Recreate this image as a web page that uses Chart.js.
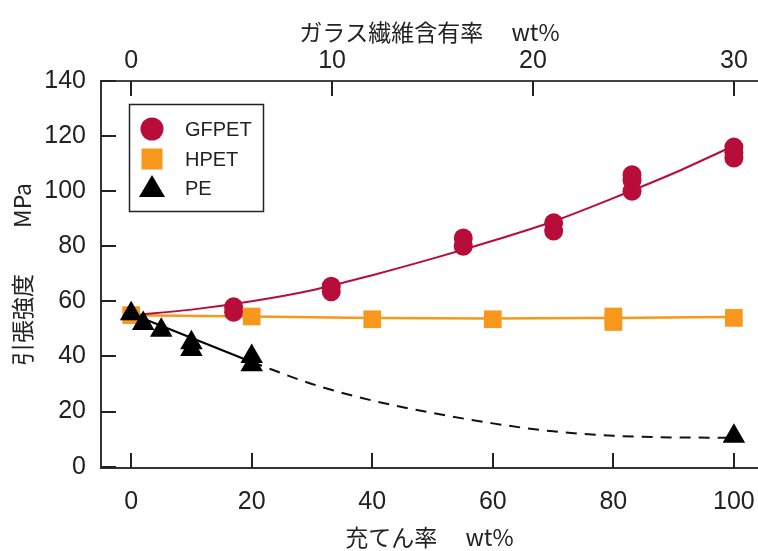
<!DOCTYPE html>
<html>
<head>
<meta charset="utf-8">
<script src="https://cdn.jsdelivr.net/npm/chart.js@4.4.1/dist/chart.umd.min.js"></script>
<style>
  body { margin: 0; background: #fff; }
  #wrap { width: 758px; height: 551px; }
</style>
</head>
<body>
<div id="wrap"><canvas id="c"></canvas></div>
<script>
// measured points (bottom axis: 充てん率 wt%)
const gfpetX = [17, 17, 33.2, 33.2, 55.1, 55.1, 70.1, 70.1, 83.1, 83.1, 83.1, 100, 100, 100];
const gfpetY = [58, 56, 65.5, 63.5, 83, 80, 88.5, 85.5, 106, 104, 100, 116, 114, 112];
const hpetX = [0, 20, 40, 60, 80, 80, 100];
const hpetY = [55, 54.5, 53.5, 53.5, 54.5, 52.5, 54];
const peX = [0, 2, 5, 10, 10, 20, 20, 100];
const peY = [55.5, 52, 49.5, 45, 42.5, 40, 37, 11];

// fitted curves
const gfFitX = [0, 10, 20, 30, 40, 50, 60, 70, 80, 90, 100];
const gfFitY = [55, 57, 60, 64, 69.5, 75.5, 82, 89, 97.5, 106.5, 116.5];
const hpFitX = [0, 20, 40, 60, 80, 100];
const hpFitY = [55, 54.5, 54, 53.8, 54, 54.3];
const peFitX = [0, 20];
const peFitY = [55.5, 38];
const peDashX = [20, 30, 40, 50, 60, 70, 80, 90, 100];
const peDashY = [38, 30, 24, 19.5, 15.7, 12.8, 11.2, 10.6, 10.5];

const bottomTicks = [0, 20, 40, 60, 80, 100];
const topTicks = [0, 10, 20, 30];
const leftTicks = [0, 20, 40, 60, 80, 100, 120, 140];

const RED = '#b80d3a';
const ORANGE = '#f7981d';
const BLACK = '#000';

const pts = (xs, ys) => xs.map((x, i) => ({ x: x, y: ys[i] }));

const numFont = '"Liberation Sans Narrow", "Liberation Sans", sans-serif';
const jpFont = '"Noto Sans CJK JP", sans-serif';

// the plot runs to the right edge of the picture
const fullWidth = {
  id: 'fullWidth',
  afterLayout(chart) {
    const W = chart.width;
    chart.chartArea.right = W;
    chart.chartArea.width = W - chart.chartArea.left;
    ['x', 'x2'].forEach(id => {
      const s = chart.scales[id];
      s.right = W;
      s.width = W - s.left;
      s.configure();
    });
  }
};

// inward tick marks
const tickPlugin = {
  id: 'inTicks',
  afterDraw(chart) {
    const { ctx, chartArea: a, scales } = chart;
    ctx.save();
    ctx.strokeStyle = '#222';
    ctx.lineWidth = 2;
    ctx.beginPath();
    bottomTicks.forEach(v => {
      const px = Math.round(scales.x.getPixelForValue(v));
      ctx.moveTo(px, a.bottom); ctx.lineTo(px, a.bottom - 15);
    });
    topTicks.forEach(v => {
      const px = Math.round(scales.x2.getPixelForValue(v));
      ctx.moveTo(px, a.top); ctx.lineTo(px, a.top + 15);
    });
    leftTicks.forEach(v => {
      const py = Math.round(scales.y.getPixelForValue(v));
      ctx.moveTo(a.left, py); ctx.lineTo(a.left + 15, py);
    });
    ctx.stroke();
    ctx.restore();
  }
};

// boxed legend in the upper left
const legendPlugin = {
  id: 'boxLegend',
  afterDraw(chart) {
    const ctx = chart.ctx;
    const a = chart.chartArea;
    const bx = a.left + 28, by = a.top + 23;
    ctx.save();
    ctx.fillStyle = '#fff';
    ctx.fillRect(bx, by, 134, 107);
    ctx.strokeStyle = '#222';
    ctx.lineWidth = 1.5;
    ctx.strokeRect(bx + 0.5, by + 0.5, 134, 107);
    const sx = bx + 23;
    const rows = [
      { label: 'GFPET', y: by + 25, draw: (x, y) => { ctx.fillStyle = RED; ctx.beginPath(); ctx.arc(x, y, 11.5, 0, Math.PI * 2); ctx.fill(); } },
      { label: 'HPET', y: by + 55, draw: (x, y) => { ctx.fillStyle = ORANGE; ctx.fillRect(x - 10.5, y - 10.5, 21, 21); } },
      { label: 'PE', y: by + 84, draw: (x, y) => { ctx.fillStyle = BLACK; ctx.beginPath(); ctx.moveTo(x, y - 13); ctx.lineTo(x + 13, y + 9); ctx.lineTo(x - 13, y + 9); ctx.closePath(); ctx.fill(); } }
    ];
    ctx.font = '20px ' + numFont;
    ctx.textBaseline = 'middle';
    rows.forEach(r => {
      r.draw(sx, r.y);
      ctx.fillStyle = '#222';
      ctx.fillText(r.label, bx + 56, r.y + 1);
    });
    ctx.restore();
  }
};

const ctx = document.getElementById('c').getContext('2d');
new Chart(ctx, {
  type: 'scatter',
  data: {
    datasets: [
      { data: pts(gfFitX, gfFitY), showLine: true, borderColor: RED, borderWidth: 2, pointRadius: 0, cubicInterpolationMode: 'monotone', order: 10 },
      { data: pts(hpFitX, hpFitY), showLine: true, borderColor: ORANGE, borderWidth: 2.5, pointRadius: 0, cubicInterpolationMode: 'monotone', order: 10 },
      { data: pts(peFitX, peFitY), showLine: true, borderColor: BLACK, borderWidth: 2, pointRadius: 0, order: 10 },
      { data: pts(peDashX, peDashY), showLine: true, borderColor: '#111', borderWidth: 2, borderDash: [11, 8], pointRadius: 0, cubicInterpolationMode: 'monotone', order: 10 },
      { label: 'GFPET', data: pts(gfpetX, gfpetY), backgroundColor: RED, borderWidth: 0, pointStyle: 'circle', pointRadius: 9.5, order: 3 },
      { label: 'HPET', data: pts(hpetX, hpetY), backgroundColor: ORANGE, borderWidth: 0, pointStyle: 'rect', pointRadius: 12.5, order: 2 },
      { label: 'PE', data: pts(peX, peY), backgroundColor: BLACK, borderWidth: 0, pointStyle: 'triangle', pointRadius: 13, order: 1 }
    ]
  },
  options: {
    responsive: true,
    maintainAspectRatio: false,
    animation: false,
    layout: { padding: 0 },
    plugins: { legend: { display: false }, tooltip: { enabled: false } },
    scales: {
      x: {
        type: 'linear', position: 'bottom', min: -5, max: 104,
        afterFit: s => { s.height = 83; },
        afterBuildTicks: s => { s.ticks = bottomTicks.map(v => ({ value: v })); },
        grid: { display: false, drawTicks: false },
        border: { display: true, color: '#333', width: 2 },
        ticks: { color: '#222', font: { family: numFont, size: 25 }, padding: 19, maxRotation: 0 },
        title: { display: true, text: '充てん率　 wt%', color: '#222', font: { family: jpFont, size: 23 }, padding: { top: 0, bottom: 0 } }
      },
      x2: {
        type: 'linear', position: 'top', min: -1.5, max: 31.2,
        afterFit: s => { s.height = 81; },
        afterBuildTicks: s => { s.ticks = topTicks.map(v => ({ value: v })); },
        grid: { display: false, drawTicks: false },
        border: { display: true, color: '#444', width: 2 },
        ticks: { color: '#222', font: { family: numFont, size: 25 }, padding: 5, maxRotation: 0 },
        title: { display: true, text: 'ガラス繊維含有率　 wt%', color: '#222', font: { family: jpFont, size: 23 }, padding: { top: 18, bottom: 0 } }
      },
      y: {
        type: 'linear', position: 'left', min: -0.5, max: 140,
        afterFit: s => { s.width = 101; },
        afterBuildTicks: s => { s.ticks = leftTicks.map(v => ({ value: v })); },
        grid: { display: false, drawTicks: false },
        border: { display: true, color: '#333', width: 2 },
        ticks: { color: '#222', font: { family: numFont, size: 25 }, padding: 15 },
        title: { display: true, text: '引張強度　　MPa', color: '#222', font: { family: jpFont, size: 23 }, padding: { top: 8, bottom: 0 } }
      }
    }
  },
  plugins: [fullWidth, tickPlugin, legendPlugin]
});
</script>
</body>
</html>
